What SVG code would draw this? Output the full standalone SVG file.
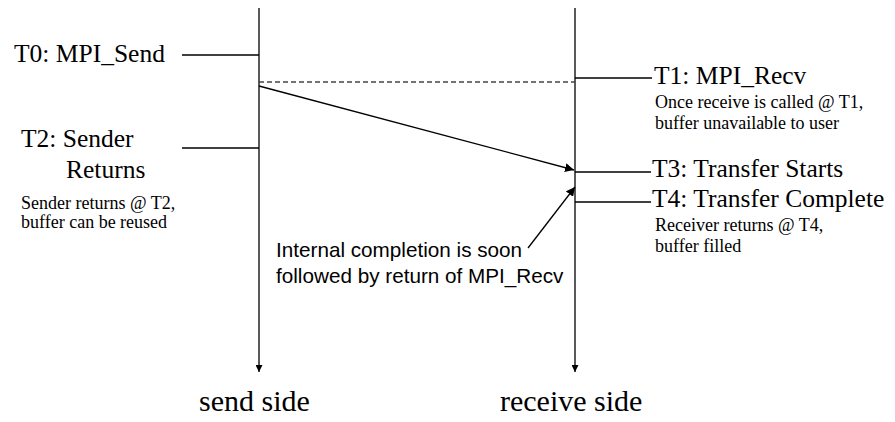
<svg xmlns="http://www.w3.org/2000/svg" width="895" height="422" viewBox="0 0 895 422">
  <style>
    .ln { stroke: #000; stroke-width: 1.3; fill: none; }
    .dash { stroke: #444; stroke-width: 1.3; stroke-dasharray: 5 3; fill: none; }
    .lbl { font-family: "Liberation Serif", "Times New Roman", serif; font-size: 25.5px; fill: #000; }
    .note { font-family: "Liberation Serif", "Times New Roman", serif; font-size: 18px; fill: #000; }
    .cap { font-family: "Liberation Serif", "Times New Roman", serif; font-size: 30px; fill: #000; }
    .sans { font-family: "Liberation Sans", Arial, sans-serif; font-size: 20.7px; fill: #000; }
  </style>
  <defs>
    <marker id="head" viewBox="0 0 10 10" refX="10" refY="5" markerWidth="7" markerHeight="7" markerUnits="userSpaceOnUse" orient="auto">
      <path d="M0,0 L10,5 L0,10 z" fill="#000"/>
    </marker>
    <marker id="headL" viewBox="0 0 10 10" refX="10" refY="5" markerWidth="9" markerHeight="9" markerUnits="userSpaceOnUse" orient="auto">
      <path d="M0,0 L10,5 L0,10 z" fill="#000"/>
    </marker>
  </defs>

  <g id="connectors">
    <!-- timelines -->
    <line class="ln" x1="259" y1="8" x2="259" y2="372" marker-end="url(#head)"/>
    <line class="ln" x1="575" y1="8" x2="575" y2="372" marker-end="url(#head)"/>
    <!-- event ticks -->
    <line class="ln" x1="182" y1="55" x2="259" y2="55"/>
    <line class="ln" x1="182" y1="148" x2="259" y2="148"/>
    <line class="ln" x1="575" y1="78" x2="652" y2="78"/>
    <line class="ln" x1="575" y1="172" x2="651" y2="172"/>
    <line class="ln" x1="575" y1="202" x2="651" y2="202"/>
    <!-- receive posted -->
    <line class="dash" x1="259" y1="82" x2="575" y2="82"/>
    <!-- message transfer -->
    <line class="ln" x1="259" y1="86" x2="574" y2="170" marker-end="url(#headL)"/>
    <!-- completion pointer -->
    <line class="ln" x1="528" y1="248" x2="575" y2="187" marker-end="url(#headL)"/>
  </g>

  <g id="send-events">
    <text class="lbl" x="14" y="62">T0: MPI_Send</text>
    <text class="lbl" x="21" y="147">T2: Sender</text>
    <text class="lbl" x="66" y="178">Returns</text>
    <text class="note" x="21" y="209">Sender returns @ T2,</text>
    <text class="note" x="21" y="228">buffer can be reused</text>
  </g>

  <g id="recv-events">
    <text class="lbl" x="654" y="84">T1: MPI_Recv</text>
    <text class="note" x="655" y="108">Once receive is called @ T1,</text>
    <text class="note" x="655" y="129">buffer unavailable to user</text>
    <text class="lbl" x="652" y="177">T3: Transfer Starts</text>
    <text class="lbl" x="652" y="207">T4: Transfer Complete</text>
    <text class="note" x="655" y="231">Receiver returns @ T4,</text>
    <text class="note" x="655" y="252">buffer filled</text>
  </g>

  <g id="completion-note">
    <text class="sans" x="276" y="257">Internal completion is soon</text>
    <text class="sans" x="276" y="283">followed by return of MPI_Recv</text>
  </g>

  <g id="axis-labels">
    <text class="cap" x="199" y="411">send side</text>
    <text class="cap" x="500" y="411">receive side</text>
  </g>
</svg>
